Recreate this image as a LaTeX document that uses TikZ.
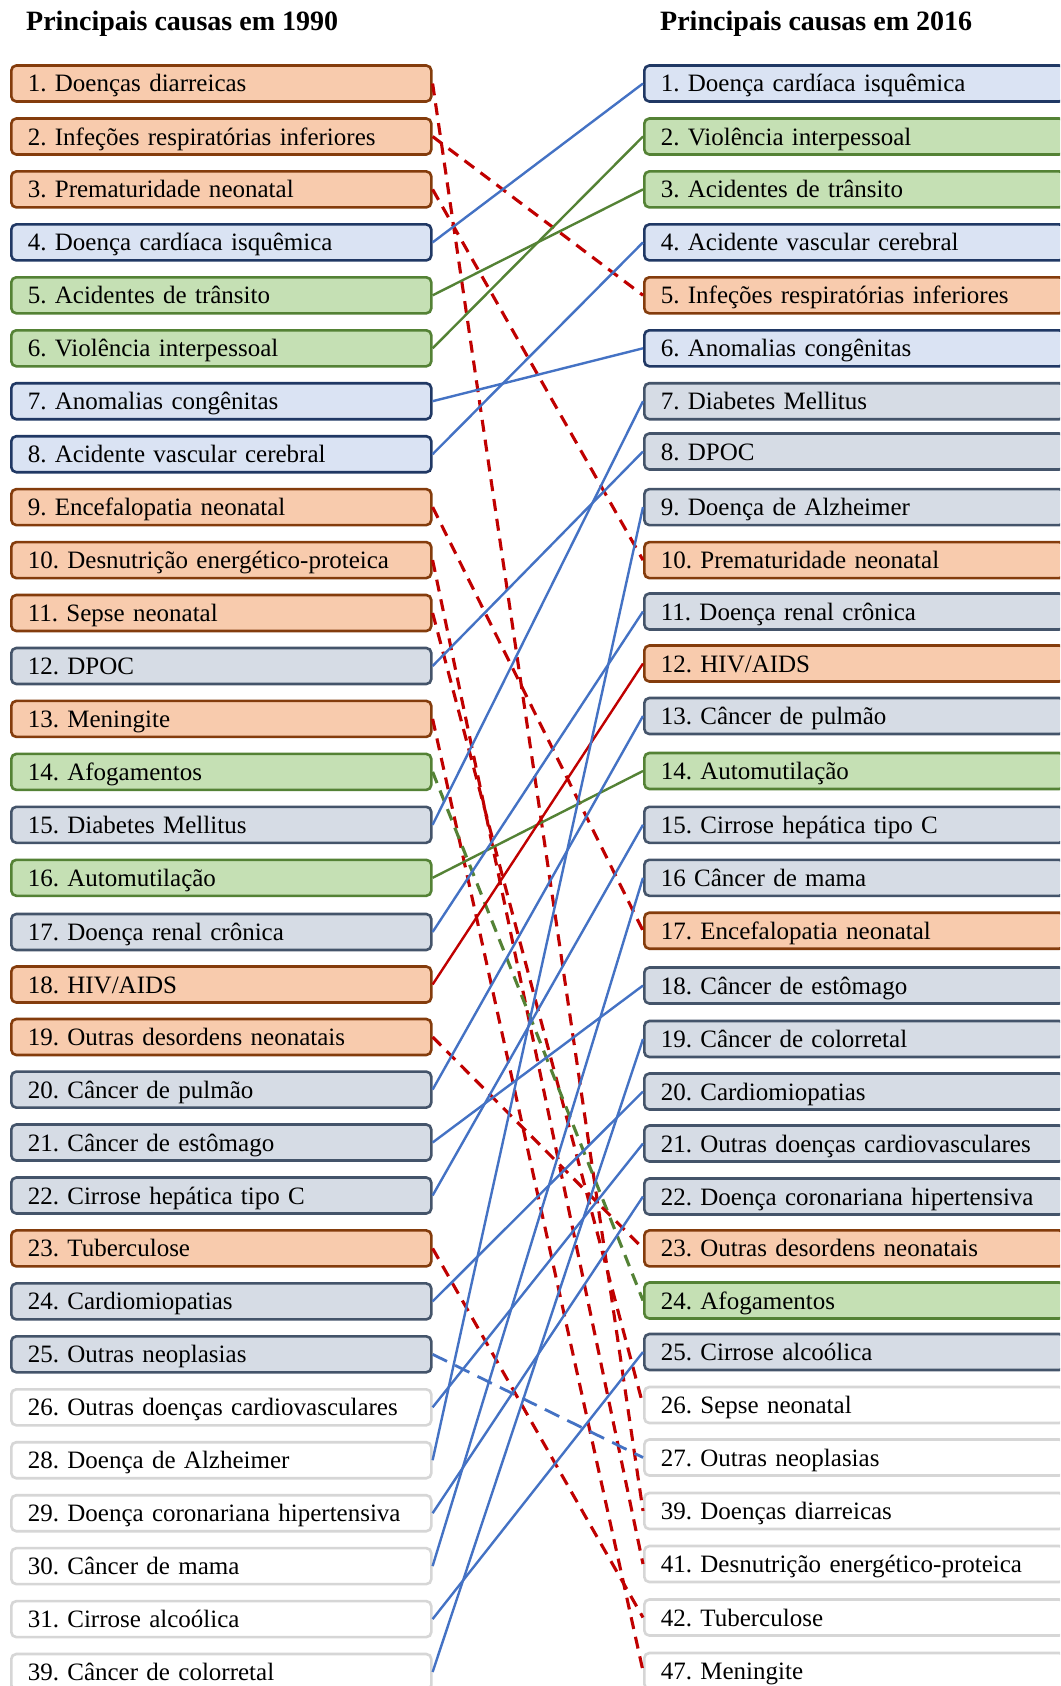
\documentclass[tikz,border=0pt]{standalone}
\usepackage{fontspec}
\setmainfont{Liberation Serif}
\definecolor{orgF}{HTML}{F8CBAD}
\definecolor{orgD}{HTML}{843C0C}
\definecolor{bluF}{HTML}{DAE3F3}
\definecolor{bluD}{HTML}{203864}
\definecolor{grnF}{HTML}{C5E0B4}
\definecolor{grnD}{HTML}{548235}
\definecolor{gryF}{HTML}{D6DCE5}
\definecolor{gryD}{HTML}{44546A}
\definecolor{whtD}{HTML}{D6D6D6}
\definecolor{lnB}{HTML}{4472C4}
\definecolor{lnG}{HTML}{548235}
\definecolor{lnR}{HTML}{C00000}
\begin{document}
\frenchspacing
\begin{tikzpicture}[x=1pt,y=-1pt,
  box/.style={draw, line width=2.6pt, rounded corners=5pt, minimum width=420pt,
    minimum height=36pt, text width=387pt, align=left, inner xsep=16.5pt,
    inner ysep=4.5pt, text height=22pt, text depth=5pt,
    font=\fontsize{25}{30}\selectfont\frenchspacing, anchor=west},
  boxO/.style={box, fill=orgF, draw=orgD},
  boxB/.style={box, fill=bluF, draw=bluD},
  boxG/.style={box, fill=grnF, draw=grnD},
  boxS/.style={box, fill=gryF, draw=gryD},
  boxW/.style={box, fill=white, draw=whtD},
  lnk/.style={line width=2.4pt},
  lB/.style={lnk, draw=lnB},
  lG/.style={lnk, draw=lnG},
  lR/.style={lnk, draw=lnR},
  dR/.style={line width=3.1pt, draw=lnR, dash pattern=on 12pt off 8pt},
  dG/.style={line width=3.1pt, draw=lnG, dash pattern=on 12pt off 8pt},
  dB/.style={line width=2.8pt, draw=lnB, dash pattern=on 16pt off 9pt},
  ttl/.style={anchor=base west, inner sep=0pt, font=\fontsize{28}{34}\selectfont\bfseries}
]
\useasboundingbox (0,0) rectangle (1060,1686);
\clip (0,0) rectangle (1060,1686);
\fill[white] (0,0) rectangle (1060,1686);

\node[ttl] (T1) at (26,31) {Principais causas em 1990};
\node[ttl] (T2) at (660,31) {Principais causas em 2016};

% left column
\node[boxO] (L1)  at (10,83.5)   {1. Doenças diarreicas};
\node[boxO] (L2)  at (10,136.5)  {2. Infeções respiratórias inferiores};
\node[boxO] (L3)  at (10,189.4)  {3. Prematuridade neonatal};
\node[boxB] (L4)  at (10,242.4)  {4. Doença cardíaca isquêmica};
\node[boxG] (L5)  at (10,295.3)  {5. Acidentes de trânsito};
\node[boxG] (L6)  at (10,348.3)  {6. Violência interpessoal};
\node[boxB] (L7)  at (10,401.2)  {7. Anomalias congênitas};
\node[boxB] (L8)  at (10,454.2)  {8. Acidente vascular cerebral};
\node[boxO] (L9)  at (10,507.1)  {9. Encefalopatia neonatal};
\node[boxO] (L10) at (10,560.1)  {10. Desnutrição energético-proteica};
\node[boxO] (L11) at (10,613.0)  {11. Sepse neonatal};
\node[boxS] (L12) at (10,666.0)  {12. DPOC};
\node[boxO] (L13) at (10,718.9)  {13. Meningite};
\node[boxG] (L14) at (10,771.9)  {14. Afogamentos};
\node[boxS] (L15) at (10,824.8)  {15. Diabetes Mellitus};
\node[boxG] (L16) at (10,877.8)  {16. Automutilação};
\node[boxS] (L17) at (10,932.0)  {17. Doença renal crônica};
\node[boxO] (L18) at (10,984.5)  {18. HIV/AIDS};
\node[boxO] (L19) at (10,1037.0) {19. Outras desordens neonatais};
\node[boxS] (L20) at (10,1089.6) {20. Câncer de pulmão};
\node[boxS] (L21) at (10,1142.5) {21. Câncer de estômago};
\node[boxS] (L22) at (10,1195.5) {22. Cirrose hepática tipo C};
\node[boxO] (L23) at (10,1248.4) {23. Tuberculose};
\node[boxS] (L24) at (10,1301.4) {24. Cardiomiopatias};
\node[boxS] (L25) at (10,1354.3) {25. Outras neoplasias};
\node[boxW] (L26) at (10,1407.3) {26. Outras doenças cardiovasculares};
\node[boxW] (L28) at (10,1460.2) {28. Doença de Alzheimer};
\node[boxW] (L29) at (10,1513.2) {29. Doença coronariana hipertensiva};
\node[boxW] (L30) at (10,1566.1) {30. Câncer de mama};
\node[boxW] (L31) at (10,1619.1) {31. Cirrose alcoólica};
\node[boxW] (L39) at (10,1672.0) {39. Câncer de colorretal};

% right column
\node[boxB] (R1)  at (643,83.5)   {1. Doença cardíaca isquêmica};
\node[boxG] (R2)  at (643,136.5)  {2. Violência interpessoal};
\node[boxG] (R3)  at (643,189.4)  {3. Acidentes de trânsito};
\node[boxB] (R4)  at (643,242.4)  {4. Acidente vascular cerebral};
\node[boxO] (R5)  at (643,295.3)  {5. Infeções respiratórias inferiores};
\node[boxB] (R6)  at (643,348.3)  {6. Anomalias congênitas};
\node[boxS] (R7)  at (643,401.2)  {7. Diabetes Mellitus};
\node[boxS] (R8)  at (643,451.5)  {8. DPOC};
\node[boxS] (R9)  at (643,507.1)  {9. Doença de Alzheimer};
\node[boxO] (R10) at (643,560.1)  {10. Prematuridade neonatal};
\node[boxS] (R11) at (643,611.5)  {11. Doença renal crônica};
\node[boxO] (R12) at (643,663.5)  {12. HIV/AIDS};
\node[boxS] (R13) at (643,716.0)  {13. Câncer de pulmão};
\node[boxG] (R14) at (643,771.0)  {14. Automutilação};
\node[boxS] (R15) at (643,824.8)  {15. Cirrose hepática tipo C};
\node[boxS] (R16) at (643,877.8)  {16 Câncer de mama};
\node[boxO] (R17) at (643,930.7)  {17. Encefalopatia neonatal};
\node[boxS] (R18) at (643,985.5)  {18. Câncer de estômago};
\node[boxS] (R19) at (643,1039.0) {19. Câncer de colorretal};
\node[boxS] (R20) at (643,1091.5) {20. Cardiomiopatias};
\node[boxS] (R21) at (643,1143.5) {21. Outras doenças cardiovasculares};
\node[boxS] (R22) at (643,1196.5) {22. Doença coronariana hipertensiva};
\node[boxO] (R23) at (643,1248.4) {23. Outras desordens neonatais};
\node[boxG] (R24) at (643,1300.5) {24. Afogamentos};
\node[boxS] (R25) at (643,1352.0) {25. Cirrose alcoólica};
\node[boxW] (R26) at (643,1405.0) {26. Sepse neonatal};
\node[boxW] (R27) at (643,1457.5) {27. Outras neoplasias};
\node[boxW] (R39) at (643,1511.0) {39. Doenças diarreicas};
\node[boxW] (R41) at (643,1564.0) {41. Desnutrição energético-proteica};
\node[boxW] (R42) at (643,1617.5) {42. Tuberculose};
\node[boxW] (R47) at (643,1671.0) {47. Meningite};

% connectors
\draw[dR] (L1.east)  -- (R39.west);
\draw[dR] (L2.east)  -- (R5.west);
\draw[dR] (L3.east)  -- (R10.west);
\draw[lB] (L4.east)  -- (R1.west);
\draw[lG] (L5.east)  -- (R3.west);
\draw[lG] (L6.east)  -- (R2.west);
\draw[lB] (L7.east)  -- (R6.west);
\draw[lB] (L8.east)  -- (R4.west);
\draw[dR] (L9.east)  -- (R17.west);
\draw[dR] (L10.east) -- (R41.west);
\draw[dR] (L11.east) -- (R26.west);
\draw[lB] (L12.east) -- (R8.west);
\draw[dR] (L13.east) -- (R47.west);
\draw[dG] (L14.east) -- (R24.west);
\draw[lB] (L15.east) -- (R7.west);
\draw[lG] (L16.east) -- (R14.west);
\draw[lB] (L17.east) -- (R11.west);
\draw[lR] (L18.east) -- (R12.west);
\draw[dR] (L19.east) -- (R23.west);
\draw[lB] (L20.east) -- (R13.west);
\draw[lB] (L21.east) -- (R18.west);
\draw[lB] (L22.east) -- (R15.west);
\draw[dR] (L23.east) -- (R42.west);
\draw[lB] (L24.east) -- (R20.west);
\draw[dB] (L25.east) -- (R27.west);
\draw[lB] (L26.east) -- (R21.west);
\draw[lB] (L28.east) -- (R9.west);
\draw[lB] (L29.east) -- (R22.west);
\draw[lB] (L30.east) -- (R16.west);
\draw[lB] (L31.east) -- (R25.west);
\draw[lB] (L39.east) -- (R19.west);
\end{tikzpicture}
\end{document}
